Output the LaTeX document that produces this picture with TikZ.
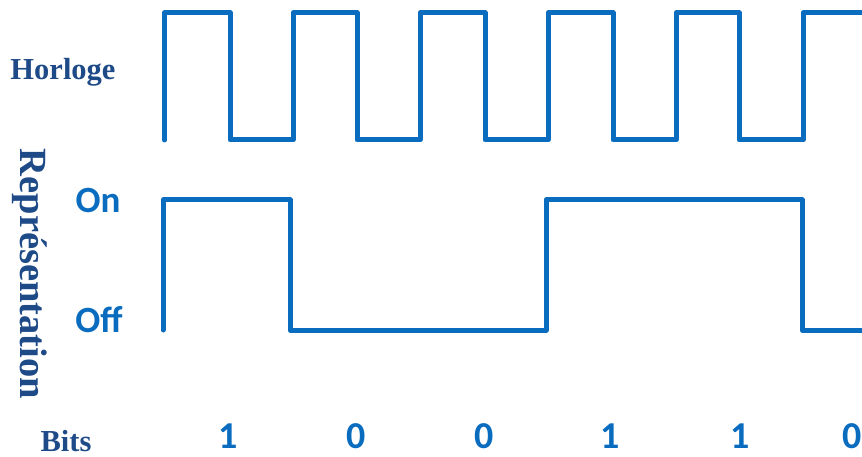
\documentclass[tikz,border=0pt]{standalone}
\usepackage{fontspec}
\setmainfont{Liberation Serif}
\newfontfamily\calib{Carlito}
\definecolor{wave}{RGB}{10,108,190}
\definecolor{navy}{RGB}{30,74,135}
\begin{document}
\begin{tikzpicture}[x=1pt,y=-1pt,
  sig/.style={draw=wave,line width=5pt,line join=round,line cap=round},
  lbl/.style={text=navy,font=\fontsize{30.5}{32}\selectfont\bfseries,inner sep=0pt},
  lvl/.style={text=wave,font=\calib\fontsize{37}{39}\selectfont\bfseries,inner sep=0pt},
  bit/.style={text=wave,font=\calib\fontsize{38}{40}\selectfont\bfseries,inner sep=0pt,anchor=base}]
\useasboundingbox (0,0) rectangle (862,457);
\begin{scope}
\clip (0,0) rectangle (862,457);
\draw[sig] (164.5,140) -- (164.5,13) -- (230,13) -- (230,140) -- (293,140) -- (293,13)
  -- (357,13) -- (357,140) -- (420,140) -- (420,13) -- (485,13) -- (485,140)
  -- (548,140) -- (548,13) -- (613,13) -- (613,140) -- (676,140) -- (676,13)
  -- (739,13) -- (739,140) -- (803,140) -- (803,13) -- (870,13);
\draw[sig] (163,330) -- (163,200) -- (290,200) -- (290,330) -- (546,330) -- (546,200)
  -- (802,200) -- (802,330) -- (870,330);
\end{scope}
\node[lbl] (horloge) at (63,72) {Horloge};
\node[lbl,font=\fontsize{38.5}{40}\selectfont\bfseries,rotate=-90] (repr) at (30,274) {Représentation};
\node[lbl,anchor=base] (bits) at (66,451) {Bits};
\node[lvl] (on) at (98,200) {On};
\node[lvl] (off) at (99,320) {Off};
\node[bit] (b1) at (228,448) {1};
\node[bit] (b2) at (356,448) {0};
\node[bit] (b3) at (484,448) {0};
\node[bit] (b4) at (610,448) {1};
\node[bit] (b5) at (740,448) {1};
\node[bit] (b6) at (852,448) {0};
\end{tikzpicture}
\end{document}
